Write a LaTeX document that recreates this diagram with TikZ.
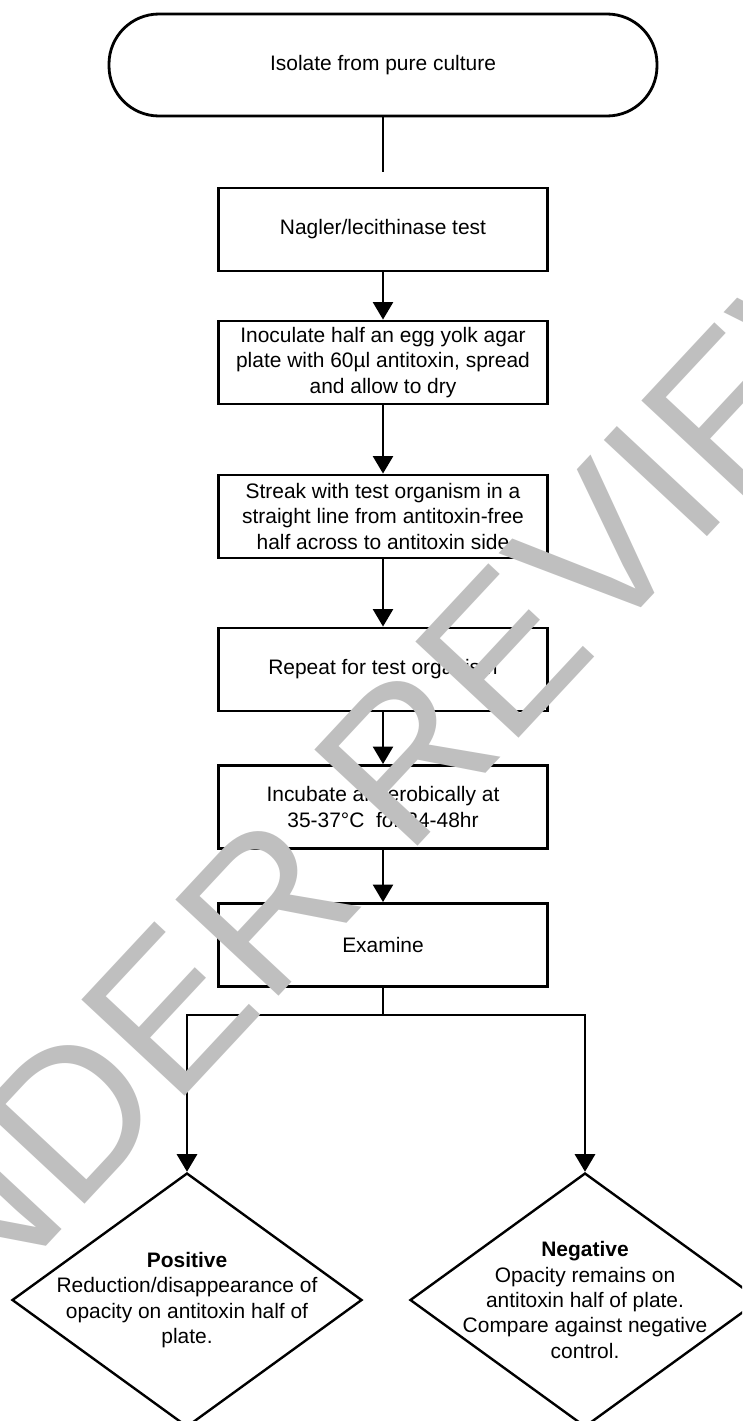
\documentclass[tikz,border=0pt]{standalone}
\usepackage{fontspec}
\setmainfont{Liberation Sans}
\usepackage{tikz}
\usetikzlibrary{shapes.geometric, arrows.meta}

\begin{document}
\begin{tikzpicture}[
    startstop/.style={rectangle, rounded corners=1.25cm, draw, line width=2pt, minimum width=13.7cm, minimum height=2.55cm, align=center},
    process/.style={rectangle, draw, line width=2pt, minimum width=8.225cm, minimum height=2.075cm, align=center, inner sep=0pt},
    decision/.style={diamond, draw, line width=1.7pt, minimum width=8.75cm, minimum height=6.35cm, inner sep=0pt},
    result/.style={align=center, inner sep=0pt},
    line/.style={line width=2pt},
    arrow/.style={line width=2pt, -{Triangle[length=0.44cm, width=0.5cm]}},
    font=\fontsize{14.9pt}{18pt}\selectfont
]
    \path[use as bounding box, clip] (0,0) rectangle (18.55,-35.525);

    \node[startstop] (isolate) at (9.575,-1.625) {Isolate from pure culture};
    \node[process] (nagler) at (9.575,-5.7375) {Nagler/lecithinase test};
    \node[process] (inoculate) at (9.575,-9.0625) {Inoculate half an egg yolk agar\\plate with 60µl antitoxin, spread\\and allow to dry};
    \node[process] (streak) at (9.575,-12.9125) {Streak with test organism in a\\straight line from antitoxin-free\\half across to antitoxin side};
    \node[process] (repeat) at (9.575,-16.7375) {Repeat for test organism};
    \node[process] (incubate) at (9.575,-20.175) {Incubate anaerobically at\\35-37°C\ \ for 24-48hr};
    \node[process] (examine) at (9.575,-23.625) {Examine};
    \coordinate (split) at (9.575,-25.375);

    \node[decision] (pos) at (4.675,-32.5) {};
    \node[decision] (neg) at (14.625,-32.5) {};
    \node[result] (postext) at (pos) {\textbf{Positive}\\Reduction/disappearance of\\opacity on antitoxin half of\\plate.};
    \node[result] (negtext) at (neg) {\textbf{Negative}\\Opacity remains on\\antitoxin half of plate.\\Compare against negative\\control.};

    \draw[line, shorten >=0.375cm] (isolate) -- (nagler);
    \draw[arrow] (nagler) -- (inoculate);
    \draw[arrow] (inoculate) -- (streak);
    \draw[arrow] (streak) -- (repeat);
    \draw[arrow] (repeat) -- (incubate);
    \draw[arrow] (incubate) -- (examine);
    \draw[line] (examine) -- (split);
    \draw[arrow] (split) -| (pos);
    \draw[arrow] (split) -| (neg);

    % watermark
    \node[rotate=47, text=black!25, font=\fontsize{145.8pt}{145.8pt}\selectfont] (stamp) at (9.1,-20.075) {UNDER REVIEW};
\end{tikzpicture}
\end{document}
